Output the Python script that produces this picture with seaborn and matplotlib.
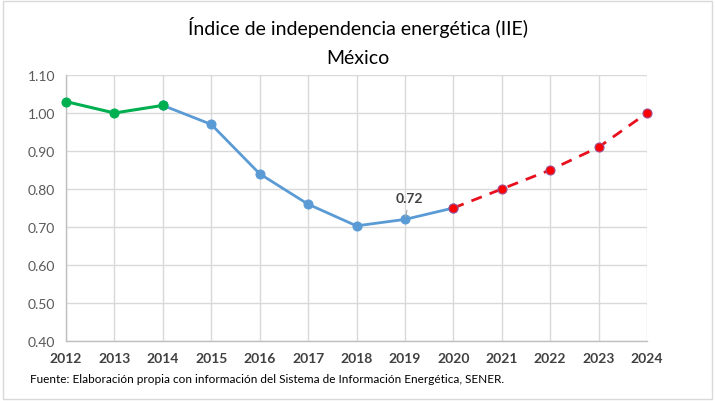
import matplotlib
matplotlib.use("Agg")
import matplotlib.pyplot as plt
import seaborn as sns
import pandas as pd
from matplotlib.patches import Rectangle

years_hist1 = [2012, 2013, 2014]
vals_hist1 = [1.03, 1.00, 1.02]
years_hist2 = [2014, 2015, 2016, 2017, 2018, 2019, 2020]
vals_hist2 = [1.02, 0.97, 0.84, 0.76, 0.703, 0.72, 0.75]
years_proj = [2020, 2021, 2022, 2023, 2024]
vals_proj = [0.75, 0.80, 0.85, 0.91, 1.00]
yticks = [0.40, 0.50, 0.60, 0.70, 0.80, 0.90, 1.00, 1.10]
xticks = list(range(2012, 2025))

sns.set_theme(style="white")
plt.rcParams['font.family'] = ['Lato', 'DejaVu Sans']

fig = plt.figure(figsize=(7.15, 4.02), dpi=100)
ax = fig.add_axes([66/715, 1-342/402, (647-66)/715, (342-76)/402])

df1 = pd.DataFrame({"x": years_hist1, "y": vals_hist1})
df2 = pd.DataFrame({"x": years_hist2, "y": vals_hist2})
df3 = pd.DataFrame({"x": years_proj, "y": vals_proj})

sns.lineplot(data=df2, x="x", y="y", ax=ax, color="#5B9BD5", lw=2,
             marker="o", markersize=6.5, markeredgecolor="#5B9BD5", zorder=3,
             clip_on=False)
sns.lineplot(data=df1, x="x", y="y", ax=ax, color="#00B050", lw=2.2,
             marker="o", markersize=6.5, markeredgecolor="#00B050", zorder=4,
             clip_on=False)
sns.lineplot(data=df3, x="x", y="y", ax=ax, color="#E8101E", lw=2,
             linestyle=(0, (4, 3)), marker="o", markersize=6.5,
             markerfacecolor="#FF0000", markeredgecolor="#A05090",
             markeredgewidth=0.8, zorder=5, clip_on=False)

ax.set_xlim(2012, 2024)
ax.set_ylim(0.40, 1.10)
ax.set_xticks(xticks)
ax.set_yticks(yticks)
ax.set_yticklabels([f"{v:.2f}" for v in yticks], fontsize=10, color="#595959")
ax.set_xticklabels([str(x) for x in xticks], fontsize=10, color="#404040",
                   fontweight="bold")
ax.grid(True, color="#D9D9D9", lw=1)
ax.set_axisbelow(True)
for s in ["top", "right"]:
    ax.spines[s].set_visible(False)
for s in ["left", "bottom"]:
    ax.spines[s].set_color("#BFBFBF")
    ax.spines[s].set_linewidth(1)
ax.tick_params(axis="both", length=0, pad=8)
ax.set_xlabel("")
ax.set_ylabel("")

ax.annotate("0.72", xy=(2019, 0.72), xytext=(2019.1, 0.765),
            fontsize=10, fontweight="bold", color="#404040", ha="center",
            arrowprops=dict(arrowstyle="-", color="#A6A6A6", lw=0.8))

fig.text(0.5, 1-28/402, "Índice de independencia energética (IIE)",
         ha="center", va="center", fontsize=14, color="#000000")
fig.text(0.5, 1-58/402, "México", ha="center", va="center",
         fontsize=14, color="#000000")
fig.text(30/715, 1-380/402,
         "Fuente: Elaboración propia con información del Sistema de Información Energética, SENER.",
         ha="left", va="center", fontsize=8.5, color="#000000")

fig.patches.append(Rectangle((0.004, 0.006), 0.992, 0.988, transform=fig.transFigure,
                             fill=False, edgecolor="#D9D9D9", lw=1))

fig.savefig("out.png", dpi=100)
